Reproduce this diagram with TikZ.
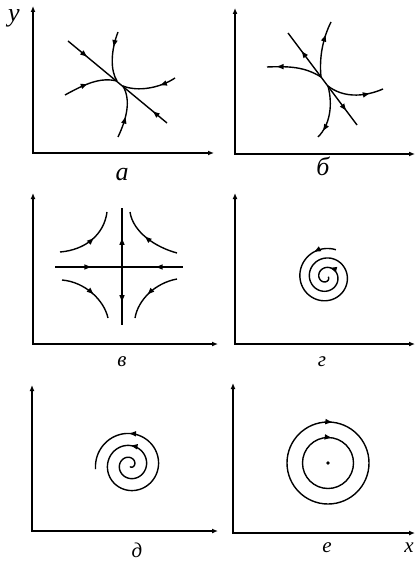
\documentclass[tikz,border=0pt]{standalone}
\usepackage{fontspec}
\setmainfont{Liberation Serif}
\usetikzlibrary{arrows.meta,decorations.markings}
\begin{document}
\begin{tikzpicture}[x=1pt,y=-1pt,
  axis/.style={line width=1.8pt,{Latex[length=6pt,width=5pt]}-{Latex[length=6pt,width=5pt]}},
  traj/.style={line width=1.4pt},
  fwd/.style={postaction={decorate,decoration={markings,mark=at position #1 with {\arrow{Triangle[length=6.5pt,width=5pt]}}}}},
  bwd/.style={postaction={decorate,decoration={markings,mark=at position #1 with {\arrowreversed{Triangle[length=6.5pt,width=5pt]}}}}},
  biglab/.style={font=\fontsize{26}{26}\selectfont\itshape,inner sep=0pt},
  lab/.style={font=\fontsize{21}{21}\selectfont\itshape,inner sep=0pt}]
\useasboundingbox (0,0) rectangle (415,561);

% ---------- panel a ----------
\coordinate (a-y) at (33,6);
\coordinate (a-o) at (33,153);
\coordinate (a-x) at (214,153);
\draw[axis] (a-y) -- (a-o) -- (a-x);
\node[biglab] (ylab) at (14,18) {y};
\node[biglab] (la) at (122,175) {а};
\coordinate (a-c1) at (117,81);
\coordinate (a-c2) at (123,86);
\coordinate (a-l1) at (68,41);
\coordinate (a-l2) at (167,123);
\draw[traj,fwd=0.19,bwd=0.86] (a-l1) -- (a-l2);
\draw[traj,fwd=0.3] (118,32) .. controls (111,50) and (110,70) .. (a-c1);
\draw[traj,fwd=0.45] (65,95) .. controls (85,84) and (100,77) .. (a-c1);
\draw[traj,fwd=0.3] (175,78) .. controls (160,88) and (138,92) .. (a-c2);
\draw[traj,fwd=0.4] (118,137) .. controls (127,118) and (131,100) .. (a-c2);

% ---------- panel b ----------
\coordinate (b-y) at (235,8);
\coordinate (b-o) at (235,154);
\coordinate (b-x) at (415,154);
\draw[axis] (b-y) -- (b-o) -- (b-x);
\node[biglab] (lb) at (323,166) {б};
\coordinate (b-c1) at (321,77);
\coordinate (b-c2) at (328,86);
\coordinate (b-l1) at (288,33);
\coordinate (b-l2) at (357,125);
\draw[traj,bwd=0.2,fwd=0.84] (b-l1) -- (b-l2);
\draw[traj,fwd=0.75] (b-c1) .. controls (319,57) and (323,38) .. (331,22);
\draw[traj,fwd=0.82] (b-c1) .. controls (305,67) and (290,66) .. (267,67);
\draw[traj,fwd=0.75] (b-c2) .. controls (342,97) and (362,98) .. (383,89);
\draw[traj,fwd=0.85] (b-c2) .. controls (333,105) and (330,125) .. (318,137);

% ---------- panel v ----------
\coordinate (v-y) at (33,193);
\coordinate (v-o) at (33,344);
\coordinate (v-x) at (218,344);
\draw[axis] (v-y) -- (v-o) -- (v-x);
\node[lab] (lv) at (122,362) {в};
\coordinate (v-h1) at (55,267);
\coordinate (v-h2) at (183,267);
\coordinate (v-v1) at (122,208);
\coordinate (v-v2) at (122,325);
\draw[traj,fwd=0.28,bwd=0.79] (v-h1) -- (v-h2);
\draw[traj,bwd=0.26,fwd=0.8] (v-v1) -- (v-v2);
\draw[traj,fwd=0.55] (60,252) .. controls (85,250) and (104,235) .. (107,212);
\draw[traj,fwd=0.55] (177,253) .. controls (155,247) and (133,232) .. (130,212);
\draw[traj,fwd=0.55] (62,280) .. controls (85,282) and (104,300) .. (108,318);
\draw[traj,fwd=0.55] (177,279) .. controls (155,283) and (138,300) .. (135,318);

% ---------- panel g ----------
\coordinate (g-y) at (235,193);
\coordinate (g-o) at (235,344);
\coordinate (g-x) at (415,344);
\draw[axis] (g-y) -- (g-o) -- (g-x);
\node[lab] (lg) at (322,362) {г};
\draw[traj,fwd=0.08,fwd=0.88] plot[domain=70:1085,samples=400,variable=\t]
  ({326+(29-9.5*(\t-70)/360)*cos(\t)},{277-(29-9.5*(\t-70)/360)*sin(\t)});

% ---------- panel d ----------
\coordinate (d-y) at (32,385);
\coordinate (d-o) at (32,531);
\coordinate (d-x) at (218,531);
\draw[axis] (d-y) -- (d-o) -- (d-x);
\node[lab] (ld) at (137,550) {д};
\draw[traj,fwd=0.315,fwd=0.825] plot[domain=-810:187,samples=400,variable=\t]
  ({130+(1.5+12*(\t+810)/360)*cos(\t)},{465-(1.5+12*(\t+810)/360)*sin(\t)});

% ---------- panel e ----------
\coordinate (e-y) at (233,383);
\coordinate (e-o) at (233,533);
\coordinate (e-x) at (415,533);
\draw[axis] (e-y) -- (e-o) -- (e-x);
\node[lab] (le) at (327,548) {е};
\node[lab] (xlab) at (409,548) {x};
\coordinate (e-c) at (328,463);
\coordinate (e-t1) at (328,422);
\coordinate (e-t2) at (328,437.5);
\fill (e-c) circle[radius=1.8pt];
\draw[traj,fwd=0.015] (e-t1) arc[start angle=90,end angle=-270,radius=41pt];
\draw[traj,fwd=0.02] (e-t2) arc[start angle=90,end angle=-270,radius=25.5pt];
\end{tikzpicture}
\end{document}
